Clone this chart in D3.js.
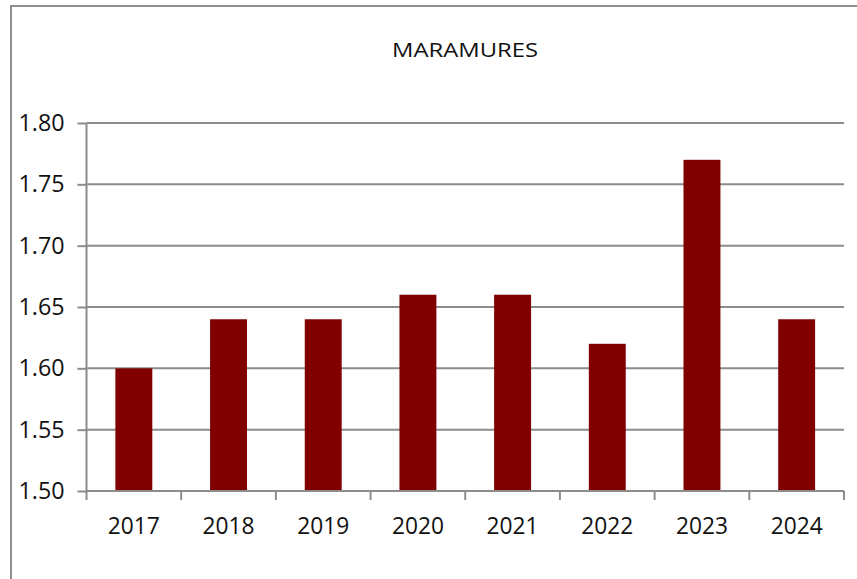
<!DOCTYPE html>
<html><head><meta charset="utf-8">
<script src="https://cdn.jsdelivr.net/npm/d3@7"></script>
<style>html,body{margin:0;padding:0;background:#fff;}svg{display:block;}</style>
</head><body>
<script>
const title = "MARAMURES";
const categories = ["2017","2018","2019","2020","2021","2022","2023","2024"];
const values = [1.60, 1.64, 1.64, 1.66, 1.66, 1.62, 1.77, 1.64];
const yTicks = [1.50, 1.55, 1.60, 1.65, 1.70, 1.75, 1.80];

const W = 857, H = 579;
const svg = d3.select("body").append("svg").attr("width", W).attr("height", H);
const font = "'Open Sans', 'DejaVu Sans', sans-serif";

svg.append("rect").attr("x", 11).attr("y", 6).attr("width", 870).attr("height", 600)
  .attr("fill", "#fff").attr("stroke", "#8f8f8f").attr("stroke-width", 2);

const m = {left: 86.5, right: 844, top: 123, bottom: 491};
const x = d3.scaleBand().domain(categories).range([m.left, m.right]).paddingInner(0.61).paddingOuter(0.305);
const xb = d3.scaleBand().domain(categories).range([m.left, m.right]);
const y = d3.scaleLinear().domain([1.5, 1.8]).range([m.bottom, m.top]);

// gridlines
svg.append("g").selectAll("line").data(yTicks).join("line")
  .attr("x1", m.left).attr("x2", m.right)
  .attr("y1", d => y(d)).attr("y2", d => y(d))
  .attr("stroke", "#8c8c8c").attr("stroke-width", 2);

// bars
svg.append("g").selectAll("rect").data(values).join("rect")
  .attr("x", (d, i) => x(categories[i]))
  .attr("width", x.bandwidth())
  .attr("y", d => y(d))
  .attr("height", d => y(1.5) - y(d))
  .attr("fill", "#800000");

// y axis
const ya = svg.append("g").attr("transform", `translate(${m.left},0)`)
  .call(d3.axisLeft(y).tickValues(yTicks).tickFormat(d3.format(".2f")).tickSize(9).tickPadding(13));
ya.select(".domain").attr("stroke", "#8c8c8c").attr("stroke-width", 2).attr("d", `M0,${m.top}V${m.bottom}`);
ya.selectAll(".tick line").attr("stroke", "#8c8c8c").attr("stroke-width", 2);
ya.selectAll(".tick text").attr("font-family", font).attr("font-size", 23).attr("fill", "#111")
  .attr("textLength", 46).attr("lengthAdjust", "spacingAndGlyphs");

// x axis
const xa = svg.append("g").attr("transform", `translate(0,${m.bottom})`)
  .call(d3.axisBottom(xb).tickSize(0).tickPadding(27));
xa.select(".domain").attr("stroke", "#8c8c8c").attr("stroke-width", 2).attr("d", `M${m.left},0H${m.right}`);
xa.selectAll(".tick text").attr("font-family", font).attr("font-size", 23).attr("fill", "#111")
  .attr("textLength", 52).attr("lengthAdjust", "spacingAndGlyphs");
// category boundary ticks
const bounds = categories.map(c => xb(c)).concat([m.right]);
svg.append("g").selectAll("line").data(bounds).join("line")
  .attr("x1", d => d).attr("x2", d => d)
  .attr("y1", m.bottom).attr("y2", m.bottom + 9)
  .attr("stroke", "#8c8c8c").attr("stroke-width", 2);

svg.append("text").attr("x", 465).attr("y", 57).attr("text-anchor", "middle")
  .attr("font-family", font).attr("font-size", 20).attr("fill", "#111")
  .attr("textLength", 146).attr("lengthAdjust", "spacingAndGlyphs").text(title);
</script>
</body></html>
